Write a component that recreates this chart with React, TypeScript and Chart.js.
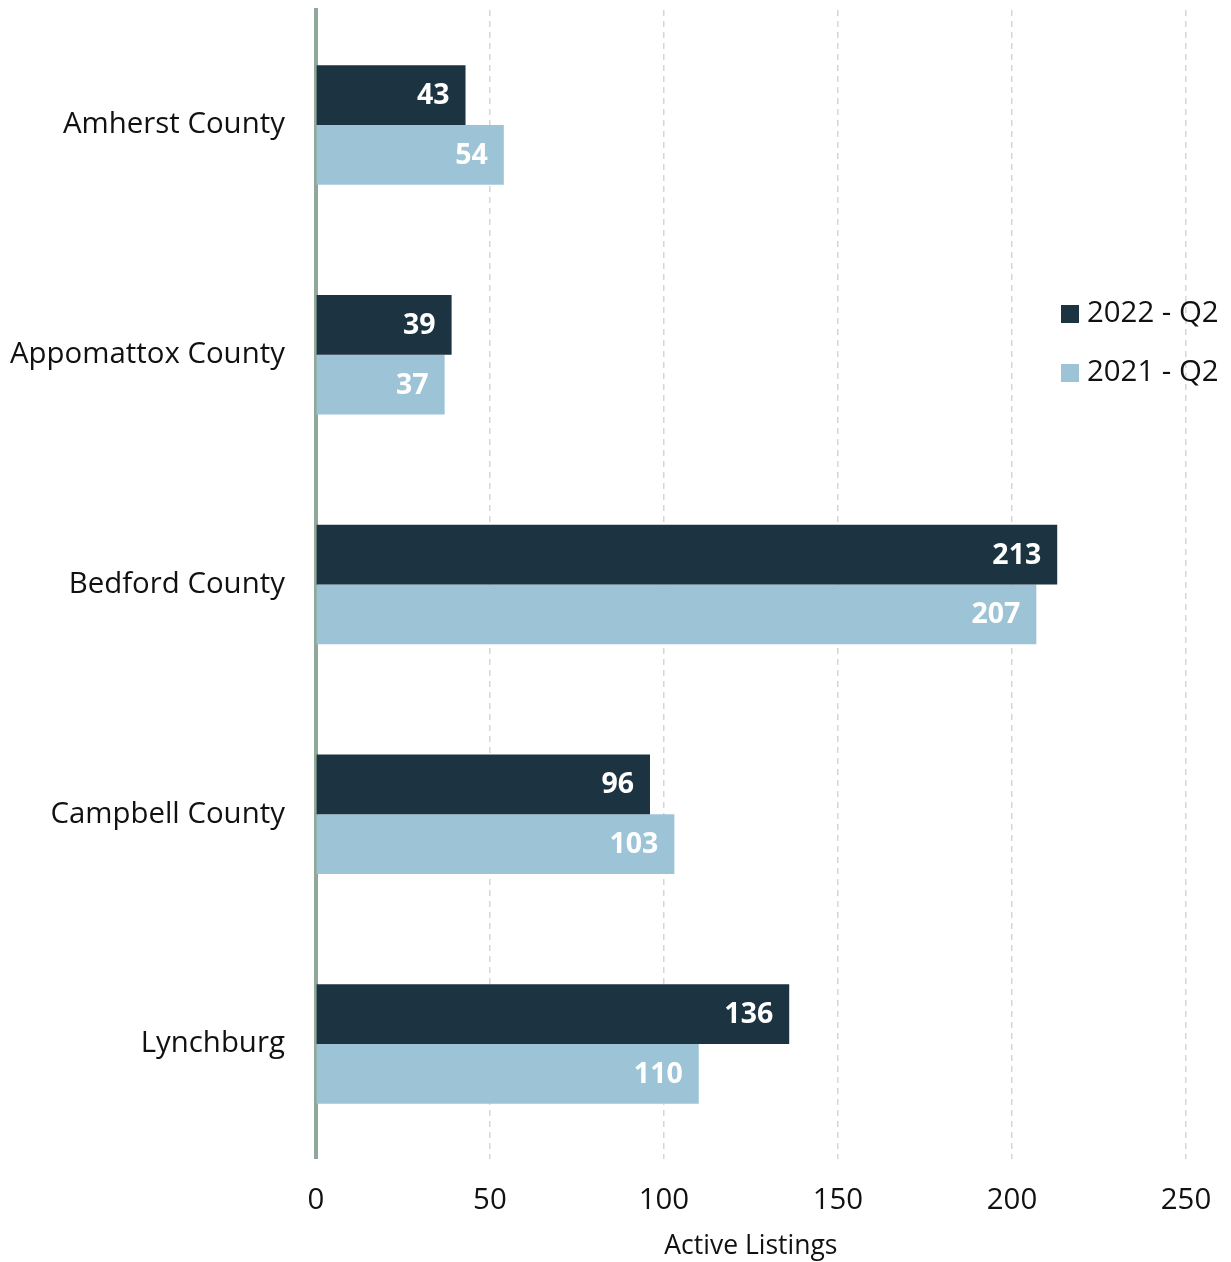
import React, { useEffect, useRef } from "react";
import { Chart, registerables } from "chart.js";

Chart.register(...registerables);

const categories = ["Amherst County", "Appomattox County", "Bedford County", "Campbell County", "Lynchburg"];
const series2022 = [43, 39, 213, 96, 136];
const series2021 = [54, 37, 207, 103, 110];
const seriesLabels = ["2022 - Q2", "2021 - Q2"];
const seriesColors = ["#1c3341", "#9dc4d6"];
const xTicks = [0, 50, 100, 150, 200, 250];
const xTitle = "Active Listings";

const FONT = "'Open Sans', 'Noto Sans', sans-serif";

const valueLabelPlugin = {
  id: "valueLabels",
  afterDatasetsDraw(chart: any) {
    const ctx = chart.ctx;
    ctx.save();
    ctx.font = `bold 28.5px ${FONT}`;
    ctx.fillStyle = "#ffffff";
    ctx.textAlign = "right";
    ctx.textBaseline = "middle";
    chart.data.datasets.forEach((ds: any, di: number) => {
      const meta = chart.getDatasetMeta(di);
      meta.data.forEach((bar: any, i: number) => {
        ctx.fillText(String(ds.data[i]), bar.x - 16, bar.y + 1);
      });
    });
    ctx.restore();
  },
};

const legendPlugin = {
  id: "floatLegend",
  afterDraw(chart: any) {
    const ctx = chart.ctx;
    const area = chart.chartArea;
    ctx.save();
    ctx.font = `29.4px ${FONT}`;
    ctx.textBaseline = "middle";
    ctx.textAlign = "left";
    const x0 = area.right - 125;
    const y0 = area.top + 304;
    chart.data.datasets.forEach((ds: any, i: number) => {
      const y = y0 + i * 59;
      ctx.fillStyle = ds.backgroundColor;
      ctx.fillRect(x0, y - 9, 18, 18);
      ctx.fillStyle = "#111111";
      ctx.fillText(ds.label, x0 + 26, y);
    });
    ctx.restore();
  },
};

export default function App() {
  const ref = useRef<HTMLCanvasElement | null>(null);
  useEffect(() => {
    if (!ref.current) return;
    const chart = new Chart(ref.current, {
      type: "bar",
      data: {
        labels: categories,
        datasets: [
          { label: seriesLabels[0], data: series2022, backgroundColor: seriesColors[0] },
          { label: seriesLabels[1], data: series2021, backgroundColor: seriesColors[1] },
        ],
      },
      options: {
        indexAxis: "y",
        animation: false,
        responsive: true,
        maintainAspectRatio: false,
        datasets: { bar: { categoryPercentage: 0.52, barPercentage: 1.0 } },
        layout: { padding: { top: 10, right: 45, bottom: 0, left: 3 } },
        plugins: { legend: { display: false }, tooltip: { enabled: false } },
        scales: {
          x: {
            min: 0,
            max: 250,
            afterBuildTicks: (axis: any) => {
              axis.ticks = xTicks.map((v) => ({ value: v }));
            },
            afterFit: (axis: any) => {
              axis.paddingLeft = 0;
              axis.paddingRight = 0;
            },
            grid: {
              display: true,
              drawTicks: false,
              color: (c: any) => (c.tick && c.tick.value === 0 ? "rgba(0,0,0,0)" : "#d6d6d6"),
              lineWidth: 1.5,
            },
            border: { display: false, dash: [6, 5] },
            ticks: { color: "#111111", font: { family: FONT, size: 29.4 }, padding: 24 },
            title: { display: true, text: xTitle, color: "#111111", font: { family: FONT, size: 26.5 }, padding: { top: -12, bottom: 0 } },
          },
          y: {
            afterFit: (axis: any) => {
              axis.paddingTop = 0;
              axis.paddingBottom = 0;
              axis.width -= 24;
            },
            grid: { display: false, drawTicks: false },
            border: { display: true, color: "#8fa89a", width: 4 },
            ticks: { color: "#111111", font: { family: FONT, size: 29.4 }, padding: 31 },
          },
        },
      },
      plugins: [valueLabelPlugin, legendPlugin],
    } as any);
    return () => chart.destroy();
  }, []);
  return (
    <div style={{ position: "fixed", left: 0, top: 0, width: 1231, height: 1262, background: "#fff" }}>
      <canvas ref={ref} />
    </div>
  );
}
